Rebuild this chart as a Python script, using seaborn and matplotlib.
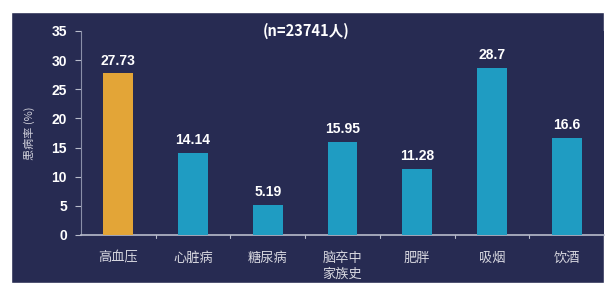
import matplotlib
matplotlib.use("Agg")
import matplotlib.pyplot as plt
import seaborn as sns
from matplotlib.patches import Rectangle

categories = ["高血压", "心脏病", "糖尿病", "脑卒中\n家族史", "肥胖", "吸烟", "饮酒"]
values = [27.73, 14.14, 5.19, 15.95, 11.28, 28.7, 16.6]
labels = ["27.73", "14.14", "5.19", "15.95", "11.28", "28.7", "16.6"]
colors = ["#E3A537", "#1F9CC2", "#1F9CC2", "#1F9CC2", "#1F9CC2", "#1F9CC2", "#1F9CC2"]

bg = "#272B52"
num_font = ['Liberation Sans', 'DejaVu Sans']
sns.set_style("dark")
plt.rcParams['font.family'] = ['Noto Sans CJK SC', 'DejaVu Sans']

fig = plt.figure(figsize=(6.08, 2.87), dpi=100, facecolor="white")
fig.patches.append(Rectangle((11 / 608, 1 - 283 / 287), 593 / 608, 271 / 287,
                             transform=fig.transFigure, facecolor=bg, zorder=-5))
ax = fig.add_axes([81 / 608, 1 - 235 / 287, 523 / 608, 204 / 287])
ax.set_zorder(2)
ax.set_facecolor(bg)

sns.barplot(x=categories, y=values, hue=categories, palette=colors, legend=False,
            width=0.40, ax=ax, saturation=1, edgecolor="none", zorder=3)

for i, (v, t) in enumerate(zip(values, labels)):
    ax.text(i, v + 1.0, t, ha="center", va="bottom", color="white",
            fontsize=10, fontweight="bold", family=num_font)

ax.set_ylim(0, 35)
ax.set_xlim(-0.5, 6.5)
ax.set_yticks(range(0, 36, 5))
ax.set_yticklabels([str(t) for t in range(0, 36, 5)], family=num_font,
                   fontweight="bold", fontsize=10)
ax.tick_params(axis="y", colors="#B8BCCB", labelcolor="white",
               length=4, direction="out", left=True, pad=6)
ax.set_xticks(range(7))
ax.set_xticklabels(categories, color="#D8D8E0", fontsize=9.5, linespacing=1.3, va="top")
ax.tick_params(axis="x", length=0, pad=12)
for b in [0.5, 1.5, 2.5, 3.5, 4.5, 5.5]:
    ax.plot([b, b], [0, -0.6], color="#B8BCCB", lw=0.8, clip_on=False, zorder=4)

for s in ["top", "right"]:
    ax.spines[s].set_visible(False)
ax.spines["left"].set_color("#8A8FA8")
ax.spines["bottom"].set_color("#B8BCCB")
ax.spines["bottom"].set_linewidth(1.2)
ax.grid(False)
ax.set_xlabel("")
ax.set_ylabel("患病率 (%)", color="#D0D0DA", fontsize=8, labelpad=12)
ax.text(0.43, 1.0, "(n=23741人)", transform=ax.transAxes, ha="center", va="center",
        color="white", fontsize=10.5, fontweight="bold")

fig.savefig("out.png", dpi=100, facecolor="white")
